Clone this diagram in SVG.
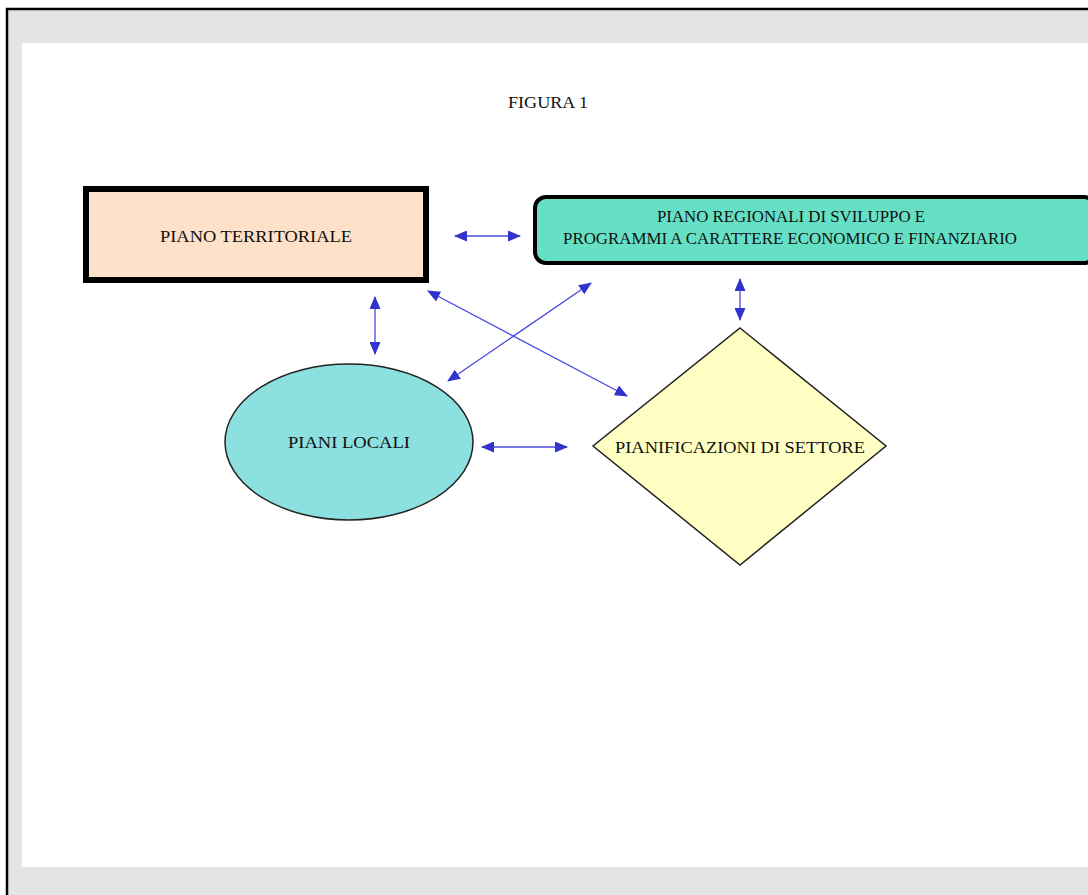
<svg xmlns="http://www.w3.org/2000/svg" width="1088" height="895" viewBox="0 0 1088 895">
<style>
.t{font-family:"Liberation Serif","Times New Roman",serif;font-size:17.5px;fill:#111;text-anchor:middle}
.c{stroke:#4a4ae0;stroke-width:1.3;fill:none;marker-start:url(#ah);marker-end:url(#ah)}
</style>
<defs>
<marker id="ah" viewBox="0 0 13 11" refX="12" refY="5.5" markerWidth="13" markerHeight="11" markerUnits="userSpaceOnUse" orient="auto-start-reverse">
<path d="M0,0 L13,5.5 L0,11 Z" fill="#3232cc"/>
</marker>
</defs>
<rect x="0" y="0" width="1088" height="895" fill="#ffffff"/>
<rect x="7" y="9" width="1090" height="895" fill="#e4e4e4" stroke="#000" stroke-width="2.5"/>
<rect x="22" y="43" width="1066" height="824" fill="#ffffff"/>
<text class="t" x="548" y="108" textLength="80" lengthAdjust="spacingAndGlyphs">FIGURA 1</text>
<g id="connectors">
<line class="c" x1="455" y1="236" x2="520" y2="236"/>
<line class="c" x1="375" y1="297" x2="375" y2="354"/>
<line class="c" x1="740" y1="279" x2="740" y2="320"/>
<line class="c" x1="428" y1="291" x2="627" y2="396"/>
<line class="c" x1="591" y1="283" x2="448" y2="381"/>
<line class="c" x1="482" y1="447" x2="567" y2="447"/>
</g>
<g id="piano-territoriale">
<rect x="86" y="189" width="340" height="91" fill="#fde1c8" stroke="#000" stroke-width="6"/>
<text class="t" x="256" y="242" textLength="192" lengthAdjust="spacingAndGlyphs">PIANO TERRITORIALE</text>
</g>
<g id="piano-regionali">
<rect x="535" y="197" width="560" height="66" rx="11" ry="11" fill="#66e0c4" stroke="#000" stroke-width="4"/>
<text class="t" x="791" y="222" textLength="268" lengthAdjust="spacingAndGlyphs">PIANO REGIONALI DI SVILUPPO E</text>
<text class="t" x="790" y="244" textLength="454" lengthAdjust="spacingAndGlyphs">PROGRAMMI A CARATTERE ECONOMICO E FINANZIARIO</text>
</g>
<g id="piani-locali">
<ellipse cx="349" cy="442" rx="124" ry="78" fill="#8ce0e0" stroke="#222" stroke-width="1.5"/>
<text class="t" x="349" y="448" textLength="122" lengthAdjust="spacingAndGlyphs">PIANI LOCALI</text>
</g>
<g id="pianificazioni">
<polygon points="740,328 886,446 740,565 593,446" fill="#ffffc4" stroke="#222" stroke-width="1.5"/>
<text class="t" x="740" y="453" textLength="250" lengthAdjust="spacingAndGlyphs">PIANIFICAZIONI DI SETTORE</text>
</g>
</svg>
